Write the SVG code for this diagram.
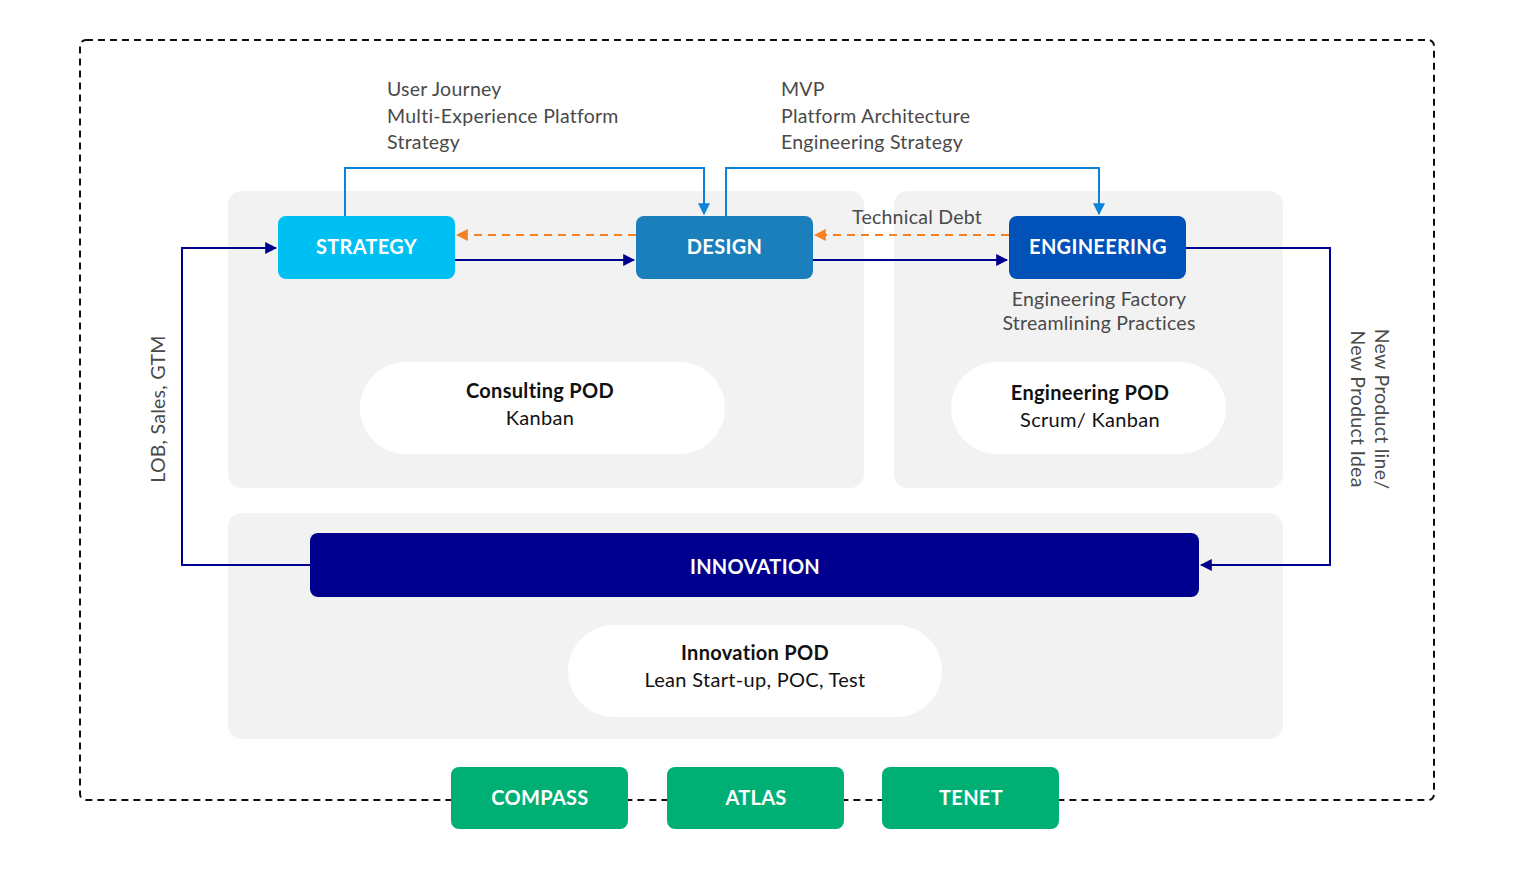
<svg xmlns="http://www.w3.org/2000/svg" width="1514" height="872" viewBox="0 0 1514 872">
<defs>
<style>
.panel{fill:#f2f2f2}
.pill{fill:#ffffff}
.lbl{font-family:Lato,"Liberation Sans",sans-serif;font-size:20px;font-weight:bold;fill:#ffffff;text-anchor:middle;letter-spacing:0.3px}
.txt{font-family:Lato,"Liberation Sans",sans-serif;font-size:19.5px;fill:#4a4a4a;letter-spacing:0.25px}
.pt{font-family:Lato,"Liberation Sans",sans-serif;font-size:20px;fill:#111111;text-anchor:middle;letter-spacing:0.3px}
.ptb{font-family:Lato,"Liberation Sans",sans-serif;font-size:20px;font-weight:bold;fill:#111111;text-anchor:middle;letter-spacing:0.3px}
.blue{fill:none;stroke:#0B84D8;stroke-width:2}
.navy{fill:none;stroke:#00008E;stroke-width:2}
.orange{fill:none;stroke:#F58220;stroke-width:2;stroke-dasharray:8 6}
</style>
<marker id="ab" viewBox="0 0 10 10" refX="9" refY="5" markerWidth="12" markerHeight="12" markerUnits="userSpaceOnUse" orient="auto"><path d="M0,0L10,5L0,10z" fill="#0B84D8"/></marker>
<marker id="an" viewBox="0 0 10 10" refX="9" refY="5" markerWidth="12" markerHeight="12" markerUnits="userSpaceOnUse" orient="auto"><path d="M0,0L10,5L0,10z" fill="#00008E"/></marker>
<marker id="ao" viewBox="0 0 10 10" refX="9" refY="5" markerWidth="12" markerHeight="12" markerUnits="userSpaceOnUse" orient="auto"><path d="M0,0L10,5L0,10z" fill="#F58220"/></marker>
</defs>
<rect x="0" y="0" width="1514" height="872" fill="#ffffff"/>
<rect id="frame" x="80" y="40" width="1354" height="760" rx="6" fill="none" stroke="#111" stroke-width="2" stroke-dasharray="7 5"/>
<g id="panels">
<rect class="panel" x="228" y="191" width="636" height="297" rx="14"/>
<rect class="panel" x="894" y="191" width="389" height="297" rx="14"/>
<rect class="panel" x="228" y="513" width="1055" height="226" rx="14"/>
</g>
<g id="connectors">
<polyline class="blue" points="345,216 345,168 704,168 704,214" marker-end="url(#ab)"/>
<polyline class="blue" points="726,216 726,168 1099,168 1099,214" marker-end="url(#ab)"/>
<line class="orange" x1="636" y1="235" x2="457" y2="235" marker-end="url(#ao)"/>
<line class="orange" x1="1009" y1="235" x2="815" y2="235" marker-end="url(#ao)"/>
<line class="navy" x1="455" y1="260" x2="634" y2="260" marker-end="url(#an)"/>
<line class="navy" x1="813" y1="260" x2="1007" y2="260" marker-end="url(#an)"/>
<polyline class="navy" points="1186,248 1330,248 1330,565 1201,565" marker-end="url(#an)"/>
<polyline class="navy" points="310,565 182,565 182,248 276,248" marker-end="url(#an)"/>
<text class="txt" x="852" y="224">Technical Debt</text>
<text class="txt" transform="translate(165,409) rotate(-90)" text-anchor="middle">LOB, Sales, GTM</text>
<text class="txt" transform="translate(1375,409) rotate(90)" text-anchor="middle">New Product line/</text>
<text class="txt" transform="translate(1351,409) rotate(90)" text-anchor="middle">New Product Idea</text>
</g>
<g id="notes">
<text class="txt" x="387" y="96">User Journey</text>
<text class="txt" x="387" y="123">Multi-Experience Platform</text>
<text class="txt" x="387" y="149">Strategy</text>
<text class="txt" x="781" y="96">MVP</text>
<text class="txt" x="781" y="123">Platform Architecture</text>
<text class="txt" x="781" y="149">Engineering Strategy</text>
<text class="txt" x="1099" y="306" text-anchor="middle">Engineering Factory</text>
<text class="txt" x="1099" y="330" text-anchor="middle">Streamlining Practices</text>
</g>
<g id="strategy">
<rect x="278" y="216" width="177" height="63" rx="8" fill="#00BFF3"/>
<text class="lbl" x="366.5" y="254">STRATEGY</text>
</g>
<g id="design">
<rect x="636" y="216" width="177" height="63" rx="8" fill="#1A7FBA"/>
<text class="lbl" x="724.5" y="254">DESIGN</text>
</g>
<g id="engineering">
<rect x="1009" y="216" width="177" height="63" rx="8" fill="#0052B8"/>
<text class="lbl" x="1098" y="254">ENGINEERING</text>
</g>
<g id="innovation">
<rect x="310" y="533" width="889" height="64" rx="8" fill="#00008E"/>
<text class="lbl" x="755" y="574">INNOVATION</text>
</g>
<g id="consulting-pod">
<rect class="pill" x="360" y="362" width="365" height="92" rx="46"/>
<text class="ptb" x="540" y="398">Consulting POD</text>
<text class="pt" x="540" y="425">Kanban</text>
</g>
<g id="engineering-pod">
<rect class="pill" x="951" y="362" width="275" height="92" rx="46"/>
<text class="ptb" x="1090" y="400">Engineering POD</text>
<text class="pt" x="1090" y="427">Scrum/ Kanban</text>
</g>
<g id="innovation-pod">
<rect class="pill" x="568" y="625" width="374" height="92" rx="46"/>
<text class="ptb" x="755" y="660">Innovation POD</text>
<text class="pt" x="755" y="687">Lean Start-up, POC, Test</text>
</g>
<g id="compass">
<rect x="451" y="767" width="177" height="62" rx="8" fill="#00AF74"/>
<text class="lbl" x="540" y="805">COMPASS</text>
</g>
<g id="atlas">
<rect x="667" y="767" width="177" height="62" rx="8" fill="#00AF74"/>
<text class="lbl" x="756" y="805">ATLAS</text>
</g>
<g id="tenet">
<rect x="882" y="767" width="177" height="62" rx="8" fill="#00AF74"/>
<text class="lbl" x="971" y="805">TENET</text>
</g>
</svg>
